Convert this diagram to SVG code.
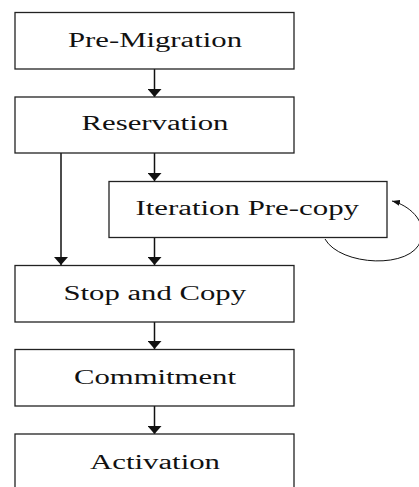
<svg xmlns="http://www.w3.org/2000/svg" width="419" height="487" viewBox="0 0 419 487">
  <defs>
    <style>
      .box { fill: #ffffff; stroke: #222222; stroke-width: 1.3; }
      .lbl { font-family: "Liberation Serif", "Times New Roman", serif; font-size: 20px; fill: #111111; }
      .edge { fill: none; stroke: #111111; stroke-width: 1.5; }
      .loop { fill: none; stroke: #111111; stroke-width: 1; }
    </style>
    <marker id="ah" viewBox="0 0 8 14" refX="8" refY="7" markerWidth="8" markerHeight="14" markerUnits="userSpaceOnUse" orient="auto">
      <path d="M0,0 L8,7 L0,14 z" fill="#111111"/>
    </marker>
    <marker id="ahs" viewBox="0 0 8 6" refX="8" refY="3" markerWidth="8" markerHeight="6" markerUnits="userSpaceOnUse" orient="auto">
      <path d="M0,0 L8,3 L0,6 z" fill="#111111"/>
    </marker>
  </defs>

  <g id="connectors">
    <line class="edge" x1="154.5" y1="69" x2="154.5" y2="97" marker-end="url(#ah)"/>
    <line class="edge" x1="154.5" y1="153" x2="154.5" y2="181" marker-end="url(#ah)"/>
    <line class="edge" x1="61" y1="153" x2="61" y2="265" marker-end="url(#ah)"/>
    <line class="edge" x1="154.5" y1="237" x2="154.5" y2="265" marker-end="url(#ah)"/>
    <line class="edge" x1="154.5" y1="322" x2="154.5" y2="349" marker-end="url(#ah)"/>
    <line class="edge" x1="154.5" y1="406" x2="154.5" y2="434" marker-end="url(#ah)"/>
    <path class="loop" d="M325,239 C340,266 412,270 421,240 C427,220 408,205 392,201" marker-end="url(#ahs)"/>
  </g>

  <g id="pre-migration">
    <rect class="box" x="15" y="12.5" width="279" height="56.5"/>
    <text class="lbl" x="68" y="46.5" textLength="174" lengthAdjust="spacingAndGlyphs">Pre-Migration</text>
  </g>
  <g id="reservation">
    <rect class="box" x="15" y="97" width="279" height="56"/>
    <text class="lbl" x="81.5" y="130" textLength="147" lengthAdjust="spacingAndGlyphs">Reservation</text>
  </g>
  <g id="iteration-pre-copy">
    <rect class="box" x="109" y="181.5" width="278" height="56"/>
    <text class="lbl" x="135.5" y="215" textLength="223.5" lengthAdjust="spacingAndGlyphs">Iteration Pre-copy</text>
  </g>
  <g id="stop-and-copy">
    <rect class="box" x="15" y="265.5" width="279" height="56.5"/>
    <text class="lbl" x="63.5" y="299.5" textLength="182.5" lengthAdjust="spacingAndGlyphs">Stop and Copy</text>
  </g>
  <g id="commitment">
    <rect class="box" x="15" y="349.5" width="279" height="56.5"/>
    <text class="lbl" x="74" y="383.5" textLength="162" lengthAdjust="spacingAndGlyphs">Commitment</text>
  </g>
  <g id="activation">
    <rect class="box" x="15" y="434" width="279" height="60"/>
    <text class="lbl" x="90" y="468.5" textLength="130" lengthAdjust="spacingAndGlyphs">Activation</text>
  </g>
</svg>
